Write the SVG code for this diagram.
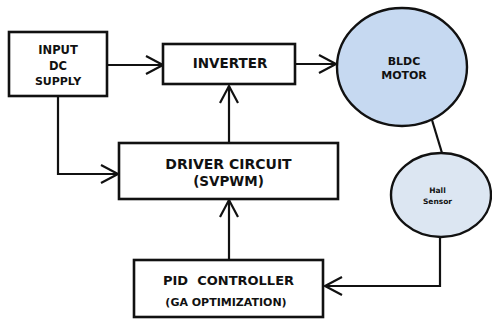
<svg xmlns="http://www.w3.org/2000/svg" width="492" height="322" viewBox="0 0 492 322">
<style>
.box{fill:#fff;stroke:#111;stroke-width:2.6}
.ell{stroke:#111;stroke-width:2.4}
.t{font-family:"DejaVu Sans",Verdana,sans-serif;font-weight:bold;fill:#111;text-anchor:middle}
.c{fill:none;stroke:#111;stroke-width:2.2}
</style>
<defs>
<marker id="ah" markerUnits="userSpaceOnUse" markerWidth="22" markerHeight="22" viewBox="0 0 22 22" refX="19" refY="11" orient="auto">
<path d="M2,2 L19,11 L2,20" fill="none" stroke="#111" stroke-width="2.2"/>
</marker>
</defs>
<rect width="492" height="322" fill="#fff"/>
<g id="connectors">
<path class="c" d="M107,65 H163" marker-end="url(#ah)"/>
<path class="c" d="M295,64 H336" marker-end="url(#ah)"/>
<path class="c" d="M229,143 V86" marker-end="url(#ah)"/>
<path class="c" d="M58,96 V174 H118" marker-end="url(#ah)"/>
<path class="c" d="M229,260 V200" marker-end="url(#ah)"/>
<path class="c" d="M432,120 L442,153"/>
<path class="c" d="M440,237 V286 H325" marker-end="url(#ah)"/>
</g>
<g id="input">
<rect class="box" x="9" y="32" width="98" height="64"/>
<text class="t" x="58" y="54" font-size="11.5">INPUT</text>
<text class="t" x="58" y="69.5" font-size="11.5">DC</text>
<text class="t" x="58" y="85" font-size="11">SUPPLY</text>
</g>
<g id="inverter">
<rect class="box" x="163" y="44" width="132" height="40"/>
<text class="t" x="230" y="68" font-size="13.5">INVERTER</text>
</g>
<g id="motor">
<ellipse class="ell" cx="402" cy="67" rx="65" ry="59" fill="#c6d9f1"/>
<text class="t" x="404" y="65" font-size="11">BLDC</text>
<text class="t" x="404" y="79" font-size="11">MOTOR</text>
</g>
<g id="driver">
<rect class="box" x="119" y="143" width="219" height="56"/>
<text class="t" x="228.5" y="169" font-size="14">DRIVER CIRCUIT</text>
<text class="t" x="228.5" y="186" font-size="13.5">(SVPWM)</text>
</g>
<g id="hall">
<ellipse class="ell" cx="441" cy="195" rx="50" ry="42" fill="#dce6f2"/>
<text class="t" x="437.5" y="193" font-size="7.5">Hall</text>
<text class="t" x="437.5" y="204" font-size="7.5">Sensor</text>
</g>
<g id="pid">
<rect class="box" x="134" y="260" width="189" height="57"/>
<text class="t" x="228.5" y="285" font-size="13" xml:space="preserve">PID  CONTROLLER</text>
<text class="t" x="226" y="306" font-size="11">(GA OPTIMIZATION)</text>
</g>
</svg>
